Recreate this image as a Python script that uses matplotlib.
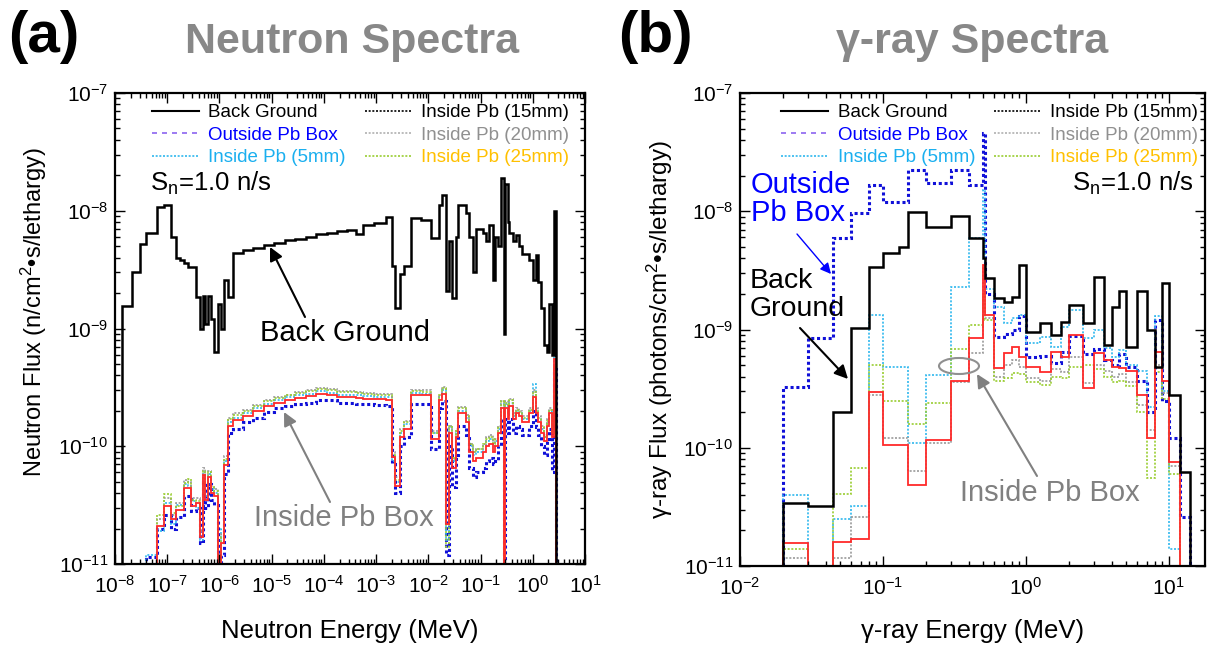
import numpy as np
import matplotlib
matplotlib.use("Agg")
import matplotlib.pyplot as plt
from matplotlib import font_manager
from matplotlib.lines import Line2D
from matplotlib.patches import Ellipse, FancyArrowPatch
from matplotlib.ticker import LogLocator, NullFormatter

# ---------------- data : panel (a) neutron spectra ----------------
n_log_edges = [-7.86, -7.68, -7.52, -7.41, -7.30, -7.19, -7.06, -6.93, -6.84, -6.75,
               -6.68, -6.61, -6.55, -6.45, -6.38, -6.31, -6.27, -6.22, -6.16, -6.10,
               -6.03, -5.97, -5.91, -5.84, -5.74, -5.55, -5.35, -5.15, -4.95, -4.75,
               -4.55, -4.35, -4.15, -3.95, -3.75, -3.55, -3.39, -3.26, -3.05, -2.81,
               -2.69, -2.63, -2.55, -2.46, -2.335, -2.14, -1.95, -1.79, -1.73, -1.665,
               -1.60, -1.54, -1.47, -1.44, -1.28, -1.22, -1.15, -1.09, -0.96, -0.90,
               -0.84, -0.77, -0.72, -0.66, -0.60, -0.56, -0.53, -0.48, -0.45, -0.38,
               -0.32, -0.26, -0.20, -0.07, 0.00, 0.06, 0.10, 0.15, 0.21, 0.28,
               0.32, 0.36, 0.40, 0.45]

n_bg = [1.56e-9, 3.0e-9, 5.2e-9, 6.5e-9, 6.5e-9, 1.08e-8, 1.12e-8, 6.0e-9, 4.0e-9, 3.8e-9,
        3.6e-9, 3.3e-9, 3.3e-9, 1.85e-9, 1.0e-9, 1.9e-9, 1.1e-9, 1.9e-9, 1.2e-9, 6.3e-10,
        1.6e-9, 1.0e-9, 2.6e-9, 1.85e-9, 4.35e-9, 4.6e-9, 4.85e-9, 5.1e-9, 5.35e-9, 5.6e-9,
        5.8e-9, 6.0e-9, 6.3e-9, 6.5e-9, 6.7e-9, 6.9e-9, 6.35e-9, 7.6e-9, 7.9e-9, 8.8e-9,
        3.4e-9, 1.5e-9, 2.9e-9, 3.4e-9, 8.7e-9, 8.4e-9, 5.9e-9, 1.13e-8, 1.35e-8, 2.1e-9,
        5.5e-9, 1.8e-9, 6.0e-9, 1.12e-8, 9.5e-9, 6.0e-9, 3.0e-9, 7.0e-9, 6.5e-9, 5.5e-9,
        7.5e-9, 2.6e-9, 6.0e-9, 5.0e-9, 1.9e-8, 9.0e-10, 1.7e-8, 8.0e-9, 6.5e-9, 5.5e-9,
        6.2e-9, 5.0e-9, 4.3e-9, 3.8e-9, 2.6e-9, 4.2e-9, 2.5e-9, 1.5e-9, 7.2e-10, 6.3e-10,
        1.6e-9, 6.0e-10, 1.0e-8]

n_outside = [5e-12, 5e-12, 5e-12, 1.15e-11, 1.15e-11, 2.0e-11, 2.6e-11, 2.0e-11, 2.5e-11, 2.5e-11,
             3.8e-11, 3.8e-11, 2.8e-11, 3.0e-11, 1.5e-11, 5.0e-11, 3.0e-11, 4.8e-11, 3.5e-11, 3.2e-11,
             5e-12, 1.2e-11, 5.8e-11, 1.3e-10, 1.4e-10, 1.6e-10, 1.75e-10, 1.95e-10, 2.1e-10, 2.2e-10,
             2.3e-10, 2.35e-10, 2.45e-10, 2.45e-10, 2.35e-10, 2.35e-10, 2.3e-10, 2.3e-10, 2.25e-10, 2.2e-10,
             7.0e-11, 4.0e-11, 1.0e-10, 1.2e-10, 2.3e-10, 2.3e-10, 9.5e-11, 2.1e-10, 2.4e-10, 1.2e-11,
             1.0e-10, 4.5e-11, 8.5e-11, 1.5e-10, 1.25e-10, 6.5e-11, 5.5e-11, 6.0e-11, 6.5e-11, 7.5e-11,
             8.0e-11, 7.0e-11, 7.5e-11, 1.0e-10, 1.7e-10, 5e-12, 1.7e-10, 1.3e-10, 1.7e-10, 1.3e-10,
             1.5e-10, 1.4e-10, 1.25e-10, 1.5e-10, 2.0e-10, 1.45e-10, 1.25e-10, 1.0e-10, 8.5e-11, 1.1e-10,
             1.4e-10, 6.0e-11, 4.5e-10]

n_pb5 = [5e-12, 5e-12, 5e-12, 1.2e-11, 1.2e-11, 1.9e-11, 3.3e-11, 2.2e-11, 3.2e-11, 3.2e-11,
         4.8e-11, 4.6e-11, 3.4e-11, 3.0e-11, 1.6e-11, 6.0e-11, 3.8e-11, 5.8e-11, 4.3e-11, 4.0e-11,
         1.0e-11, 2.0e-11, 7.5e-11, 1.6e-10, 1.75e-10, 1.9e-10, 2.1e-10, 2.3e-10, 2.45e-10, 2.6e-10,
         2.7e-10, 2.8e-10, 2.95e-10, 2.85e-10, 2.75e-10, 2.75e-10, 2.7e-10, 2.65e-10, 2.6e-10, 2.6e-10,
         7.5e-11, 5.0e-11, 1.3e-10, 1.55e-10, 2.85e-10, 2.8e-10, 1.3e-10, 2.6e-10, 3.0e-10, 1.6e-11,
         1.45e-10, 7.5e-11, 1.3e-10, 2.0e-10, 1.75e-10, 1.0e-10, 8.5e-11, 9.0e-11, 1.0e-10, 1.1e-10,
         1.15e-10, 1.0e-10, 1.1e-10, 1.4e-10, 2.3e-10, 5e-12, 2.3e-10, 1.85e-10, 2.35e-10, 1.8e-10,
         2.0e-10, 1.9e-10, 1.7e-10, 2.0e-10, 3.4e-10, 2.0e-10, 1.7e-10, 1.4e-10, 1.2e-10, 1.6e-10,
         2.0e-10, 1.3e-10, 5.8e-10]

n_pb15 = [5e-12, 5e-12, 5e-12, 5e-12, 5e-12, 2.1e-11, 3.1e-11, 2.4e-11, 2.9e-11, 2.9e-11,
          4.4e-11, 4.4e-11, 3.1e-11, 3.3e-11, 1.7e-11, 5.7e-11, 3.5e-11, 5.5e-11, 4.0e-11, 3.8e-11,
          5e-12, 1.5e-11, 6.9e-11, 1.5e-10, 1.67e-10, 1.8e-10, 2.0e-10, 2.2e-10, 2.35e-10, 2.45e-10,
          2.55e-10, 2.65e-10, 2.8e-10, 2.7e-10, 2.6e-10, 2.6e-10, 2.55e-10, 2.5e-10, 2.5e-10, 2.45e-10,
          8.1e-11, 4.6e-11, 1.2e-10, 1.4e-10, 2.7e-10, 2.7e-10, 1.15e-10, 2.45e-10, 2.8e-10, 2.2e-11,
          1.3e-10, 6.5e-11, 1.2e-10, 1.9e-10, 1.6e-10, 9.0e-11, 7.5e-11, 8.0e-11, 9.0e-11, 1.0e-10,
          1.05e-10, 9.0e-11, 1.0e-10, 1.3e-10, 2.1e-10, 5e-12, 2.1e-10, 1.7e-10, 2.2e-10, 1.7e-10,
          1.9e-10, 1.8e-10, 1.6e-10, 1.9e-10, 2.6e-10, 1.9e-10, 1.6e-10, 1.3e-10, 1.1e-10, 1.5e-10,
          1.9e-10, 1.2e-10, 5.5e-10]

n_pb20 = [5e-12, 5e-12, 5e-12, 5e-12, 5e-12, 2.4e-11, 3.6e-11, 2.6e-11, 3.3e-11, 3.3e-11,
          5.2e-11, 5.0e-11, 3.6e-11, 3.6e-11, 1.9e-11, 6.5e-11, 4.0e-11, 6.2e-11, 4.6e-11, 4.3e-11,
          5e-12, 1.8e-11, 8.2e-11, 1.75e-10, 1.9e-10, 2.05e-10, 2.25e-10, 2.45e-10, 2.6e-10, 2.75e-10,
          2.9e-10, 3.0e-10, 3.15e-10, 3.05e-10, 2.95e-10, 2.95e-10, 2.9e-10, 2.85e-10, 2.8e-10, 2.8e-10,
          9.0e-11, 5.5e-11, 1.4e-10, 1.65e-10, 3.0e-10, 3.0e-10, 1.35e-10, 2.75e-10, 3.2e-10, 2.6e-11,
          1.5e-10, 7.8e-11, 1.4e-10, 2.15e-10, 1.85e-10, 1.05e-10, 9.0e-11, 9.5e-11, 1.05e-10, 1.2e-10,
          1.25e-10, 1.05e-10, 1.15e-10, 1.5e-10, 2.4e-10, 5e-12, 2.4e-10, 1.95e-10, 2.5e-10, 1.9e-10,
          2.1e-10, 2.0e-10, 1.8e-10, 2.1e-10, 3.0e-10, 2.1e-10, 1.8e-10, 1.5e-10, 1.25e-10, 1.7e-10,
          2.1e-10, 1.35e-10, 5.0e-10]

n_pb25 = [5e-12, 5e-12, 5e-12, 5e-12, 5e-12, 2.6e-11, 3.9e-11, 2.7e-11, 3.1e-11, 3.1e-11,
          4.9e-11, 5.3e-11, 3.5e-11, 3.4e-11, 1.8e-11, 6.2e-11, 4.2e-11, 6.0e-11, 4.5e-11, 4.2e-11,
          1.0e-11, 1.7e-11, 7.8e-11, 1.7e-10, 1.85e-10, 2.0e-10, 2.2e-10, 2.4e-10, 2.55e-10, 2.7e-10,
          2.85e-10, 2.95e-10, 3.05e-10, 3.0e-10, 2.9e-10, 2.9e-10, 2.85e-10, 2.8e-10, 2.75e-10, 2.75e-10,
          8.5e-11, 5.2e-11, 1.35e-10, 1.6e-10, 2.95e-10, 2.9e-10, 1.3e-10, 2.7e-10, 3.1e-10, 1.4e-11,
          1.5e-10, 8.0e-11, 1.35e-10, 2.1e-10, 1.8e-10, 1.05e-10, 9.0e-11, 9.5e-11, 1.05e-10, 1.15e-10,
          1.2e-10, 1.05e-10, 1.15e-10, 1.45e-10, 2.4e-10, 5e-12, 2.35e-10, 1.9e-10, 2.45e-10, 1.85e-10,
          2.05e-10, 1.95e-10, 1.75e-10, 2.05e-10, 2.9e-10, 2.05e-10, 1.75e-10, 1.45e-10, 1.2e-10, 1.65e-10,
          2.05e-10, 1.3e-10, 4.8e-10]

# ---------------- data : panel (b) gamma-ray spectra ----------------
g_edges = [0.02, 0.03, 0.045, 0.06, 0.08, 0.1, 0.13, 0.15, 0.2, 0.3, 0.4, 0.5, 0.52, 0.6,
           0.7, 0.8, 0.9, 1.0, 1.25, 1.5, 1.75, 2.0, 2.5, 3.0, 3.5, 4.0, 4.5, 5.0, 6.0,
           7.0, 8.0, 9.0, 10.0, 12.0, 14.0]

g_bg = [3.4e-11, 3.2e-11, 2.0e-10, 1.03e-9, 3.4e-9, 4.4e-9, 5.0e-9, 9.9e-9, 7.4e-9, 9.1e-9,
        5.9e-9, 4.0e-9, 2.7e-9, 1.85e-9, 1.7e-9, 1.9e-9, 3.5e-9, 9.5e-10, 1.13e-9, 9.0e-10,
        1.16e-9, 1.6e-9, 1.13e-9, 2.8e-9, 7.4e-10, 1.55e-9, 2.1e-9, 7.1e-10, 2.1e-9, 1.0e-9,
        4.8e-10, 2.47e-9, 2.8e-10, 6.2e-11]

g_outside = [3.27e-10, 8.5e-10, 5.94e-9, 9.7e-9, 1.67e-8, 1.2e-8, 1.2e-8, 2.23e-8, 1.73e-8, 2.23e-8,
             1.67e-8, 4.6e-8, 2.0e-9, 8.6e-10, 9.2e-10, 1.0e-9, 1.3e-9, 5.8e-10, 6.0e-10, 5.2e-10,
             6.5e-10, 8.8e-10, 6.2e-10, 6.8e-10, 5.5e-10, 5.0e-10, 6.2e-10, 4.8e-10, 3.7e-10, 2.0e-10,
             1.2e-9, 2.5e-10, 1.2e-10, 2.6e-11]

g_pb5 = [4.0e-11, 5e-12, 2.5e-11, 3.2e-11, 1.33e-9, 4.8e-10, 4.8e-10, 1.1e-10, 4.1e-10, 2.3e-9,
         5.9e-9, 1.5e-8, 2.2e-9, 1.55e-9, 1.13e-9, 1.25e-9, 1.33e-9, 7.7e-10, 8.7e-10, 7.1e-10,
         1.05e-9, 1.45e-9, 8.5e-10, 1.0e-9, 7.0e-10, 5.8e-10, 6.7e-10, 5.0e-10, 4.5e-10, 2.2e-10,
         1.3e-9, 3.0e-10, 1.4e-11, 5e-12]

g_pb15 = [1.55e-11, 5e-12, 1.6e-11, 1.7e-11, 2.98e-10, 1.05e-10, 1.05e-10, 4.8e-11, 1.17e-10, 3.7e-10,
          8.5e-10, 3.5e-9, 1.33e-9, 4.7e-10, 6.3e-10, 7.1e-10, 5.8e-10, 4.8e-10, 4.4e-10, 6.4e-10,
          5.8e-10, 9.0e-10, 3.2e-10, 6.3e-10, 5.5e-10, 4.8e-10, 4.7e-10, 4.5e-10, 2.8e-10, 1.2e-10,
          6.4e-10, 3.7e-10, 7.6e-11, 5e-12]

g_pb20 = [1.17e-11, 5e-12, 1.17e-11, 2.6e-11, 2.8e-10, 1.2e-10, 1.2e-10, 6.3e-11, 1.1e-10, 3.6e-10,
          6.3e-10, 3.4e-9, 1.25e-9, 4.0e-10, 5.0e-10, 5.5e-10, 4.8e-10, 3.9e-10, 3.7e-10, 4.6e-10,
          4.4e-10, 5.8e-10, 3.5e-10, 5.0e-10, 4.5e-10, 4.0e-10, 4.2e-10, 3.6e-10, 2.3e-10, 1.4e-10,
          5.0e-10, 2.9e-10, 7.0e-11, 5e-12]

g_pb25 = [1.4e-11, 5e-12, 4.1e-11, 6.8e-11, 5.0e-10, 2.5e-10, 2.5e-10, 1.6e-10, 2.4e-10, 6.8e-10,
          1.1e-9, 2.0e-9, 1.2e-9, 3.7e-10, 3.9e-10, 4.3e-10, 4.2e-10, 3.6e-10, 3.4e-10, 4.0e-10,
          3.9e-10, 4.8e-10, 5.0e-10, 4.6e-10, 4.0e-10, 3.6e-10, 3.7e-10, 3.3e-10, 2.0e-10, 5.5e-11,
          4.4e-10, 2.6e-10, 6.0e-11, 5e-12]

legend_labels = ["Back Ground", "Outside Pb Box", "Inside Pb (5mm)",
                 "Inside Pb (15mm)", "Inside Pb (20mm)", "Inside Pb (25mm)"]

# ---------------- fonts ----------------
names = {f.name for f in font_manager.fontManager.ttflist}
base = "Liberation Sans" if "Liberation Sans" in names else "DejaVu Sans"
narrow = "Liberation Sans Narrow" if "Liberation Sans Narrow" in names else base
plt.rcParams["font.family"] = [base, "DejaVu Sans"]
plt.rcParams["mathtext.fontset"] = "custom"
plt.rcParams["mathtext.rm"] = base
plt.rcParams["mathtext.it"] = base + ":italic"
plt.rcParams["mathtext.bf"] = base + ":bold"

W, H = 1210, 646
fig = plt.figure(figsize=(W / 100, H / 100), dpi=100)


def fp(x, y):
    return (x / W, 1 - y / H)


axA = fig.add_axes([115 / W, (H - 564) / H, 470 / W, 471 / H])
axB = fig.add_axes([740 / W, (H - 566) / H, 465 / W, 473 / H])

dot = (0, (1.2, 1.0))
styles = {
    "out": dict(color="#1010D8", ls=(0, (1.0, 0.9)), lw=2.2),
    "p5": dict(color="#30B8EE", ls=dot, lw=1.2),
    "p20": dict(color="#9A9A9A", ls=dot, lw=1.2),
    "p25": dict(color="#9ACD32", ls=dot, lw=1.2),
    "p15": dict(color="#FF2A2A", ls="-", lw=1.3),
    "bg": dict(color="black", ls="-", lw=1.8),
}

n_edges = 10.0 ** np.array(n_log_edges)
for key, vals in [("out", n_outside), ("p5", n_pb5), ("p20", n_pb20), ("p25", n_pb25),
                  ("p15", n_pb15), ("bg", n_bg)]:
    axA.stairs(vals, n_edges, baseline=1e-13, **styles[key])

for key, vals in [("out", g_outside), ("p5", g_pb5), ("p20", g_pb20), ("p25", g_pb25),
                  ("p15", g_pb15), ("bg", g_bg)]:
    axB.stairs(vals, g_edges, baseline=1e-13, **styles[key])

axA.set_xlim(1e-8, 1e1)
axB.set_xlim(1e-2, 17.9)
for ax in (axA, axB):
    ax.set_xscale("log")
    ax.set_yscale("log")
    ax.set_ylim(1e-11, 1e-7)
    ax.xaxis.set_major_locator(LogLocator(base=10, numticks=30))
    ax.xaxis.set_minor_locator(LogLocator(base=10, subs=np.arange(2, 10), numticks=300))
    ax.xaxis.set_minor_formatter(NullFormatter())
    ax.yaxis.set_major_locator(LogLocator(base=10, numticks=30))
    ax.yaxis.set_minor_locator(LogLocator(base=10, subs=np.arange(2, 10), numticks=300))
    ax.yaxis.set_minor_formatter(NullFormatter())
    ax.tick_params(which="both", direction="in", top=True, right=True, width=1.0)
    ax.tick_params(which="major", length=7, labelsize=15)
    ax.tick_params(axis="x", which="major", pad=8)
    ax.tick_params(axis="y", which="major", pad=5)
    ax.tick_params(which="minor", length=3.5)
    for s in ax.spines.values():
        s.set_linewidth(1.6)

# legends
handles = [Line2D([], [], color="black", lw=1.5),
           Line2D([], [], color="#8C64F0", lw=1.2, ls=(0, (3, 3))),
           Line2D([], [], color="#30B8EE", lw=1.2, ls=(0, (1.2, 1.0))),
           Line2D([], [], color="black", lw=1.2, ls=(0, (1.2, 1.0))),
           Line2D([], [], color="#B0B0B0", lw=1.2, ls=(0, (1.2, 1.0))),
           Line2D([], [], color="#9ACD32", lw=1.2, ls=(0, (1.2, 1.0)))]
lab_colors = ["black", "#0000FF", "#1AAFEF", "black", "#909090", "#FFC000"]
for ax, anchor in ((axA, (0.055, 1.0)), (axB, (0.065, 1.0))):
    ax.legend(handles, legend_labels, ncol=2, frameon=False, fontsize=13.5,
              labelcolor=lab_colors, loc="upper left", bbox_to_anchor=anchor,
              handlelength=2.5, handletextpad=0.5, columnspacing=1.0,
              labelspacing=0.28, borderaxespad=0.2)

# axis labels
axA.set_xlabel("Neutron Energy (MeV)", fontsize=18.5)
axA.set_ylabel("Neutron Flux (n/cm$^{2}$\u2022s/lethargy)", fontsize=17)
axB.set_xlabel("\u03b3-ray Energy (MeV)", fontsize=18.5)
axB.set_ylabel("\u03b3-ray Flux (photons/cm$^{2}$\u2022s/lethargy)", fontsize=17.5)
axA.xaxis.set_label_coords(0.5, -0.117)
axB.xaxis.set_label_coords(0.5, -0.113)
axA.yaxis.set_label_coords(-0.14, 0.535)
axB.yaxis.set_label_coords(-0.14, 0.5)

# titles
fig.text(*fp(8, 37), "(a)", fontsize=42, fontweight="bold", family=narrow, va="center", ha="left")
fig.text(*fp(352, 42), "Neutron Spectra", fontsize=31, fontweight="bold", family=narrow,
         color="#888888", va="center", ha="center")
fig.text(*fp(618, 37), "(b)", fontsize=42, fontweight="bold", family=narrow, va="center", ha="left")
fig.text(*fp(972, 42), "\u03b3-ray Spectra", fontsize=31, fontweight="bold", family=narrow,
         color="#888888", va="center", ha="center")

# source strength
fig.text(*fp(150, 183), "S$_\\mathregular{n}$=1.0 n/s", fontsize=18.5, va="center", ha="left")
fig.text(*fp(1194, 183), "S$_\\mathregular{n}$=1.0 n/s", fontsize=18.5, va="center", ha="right")

# annotations panel (a)
arrow_k = dict(arrowstyle="-|>", lw=1.5, mutation_scale=20, shrinkA=0, shrinkB=0)
fig.text(*fp(345, 333), "Back Ground", fontsize=21, ha="center", va="center")
fig.patches.append(FancyArrowPatch(
    fp(305, 317), fp(270, 247), transform=fig.transFigure, color="black", **arrow_k))
fig.text(*fp(344, 518), "Inside Pb Box", fontsize=21, ha="center", va="center", color="#808080")
fig.patches.append(FancyArrowPatch(
    fp(330, 502), fp(284, 412), transform=fig.transFigure, color="#808080", **arrow_k))

# annotations panel (b)
fig.text(*fp(751, 199), "Outside\nPb Box", fontsize=21, ha="left", va="center",
         color="#0000FF", linespacing=1.0)
fig.patches.append(FancyArrowPatch(
    fp(797, 234), fp(831, 274), transform=fig.transFigure, color="#0000FF",
    arrowstyle="-|>", lw=1.0, mutation_scale=16, shrinkA=0, shrinkB=0))
fig.text(*fp(750, 295), "Back\nGround", fontsize=20.5, ha="left", va="center",
         color="black", linespacing=1.1)
fig.patches.append(FancyArrowPatch(
    fp(800, 328), fp(848, 379), transform=fig.transFigure, color="black", **arrow_k))
fig.text(*fp(1050, 493), "Inside Pb Box", fontsize=21, ha="center", va="center", color="#808080")
fig.patches.append(FancyArrowPatch(
    fp(1037, 476), fp(977, 374), transform=fig.transFigure, color="#808080", **arrow_k))
axB.add_patch(Ellipse(((959 - 740) / 465, (566 - 366) / 473), 40 / 465, 16 / 473,
                      transform=axB.transAxes, fill=False, edgecolor="#909090", lw=1.5))

fig.savefig("out.png", dpi=100)
